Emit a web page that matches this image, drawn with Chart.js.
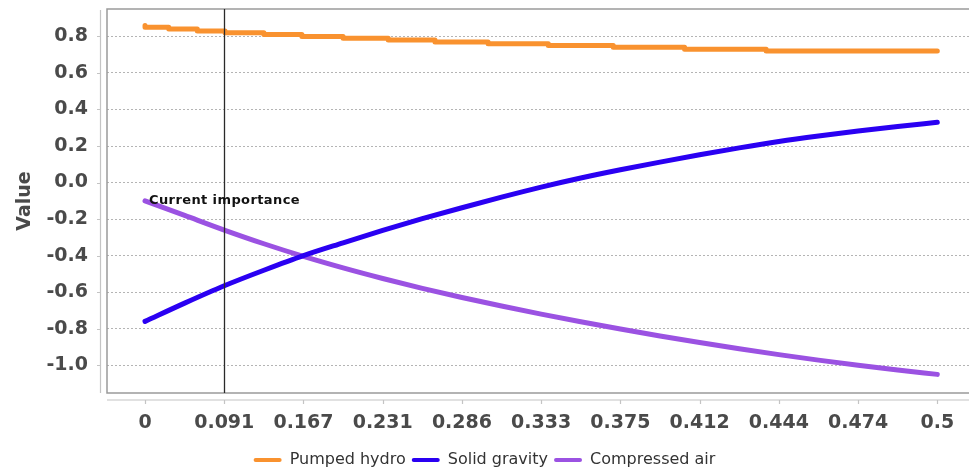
<!DOCTYPE html>
<html>
<head>
<meta charset="utf-8">
<script src="https://cdn.jsdelivr.net/npm/chart.js@4.4.1/dist/chart.umd.min.js"></script>
<style>
  html, body { margin: 0; padding: 0; background: #ffffff; }
  #wrap { width: 969px; height: 471px; position: relative; }
</style>
</head>
<body>
<div id="wrap"><canvas id="c" width="969" height="471"></canvas></div>
<script>
// ---- data ----
const seriesNames = ['Pumped hydro', 'Solid gravity', 'Compressed air'];
const seriesColors = ['#F9922F', '#2A00F2', '#9B52E2'];

// importance weight positions of the sampled points
const weights = [0, 0.05, 0.10, 0.15, 0.20, 0.25, 0.30, 0.35, 0.40, 0.45, 0.50,
                 0.55, 0.60, 0.65, 0.70, 0.75, 0.80, 0.85, 0.90, 0.95, 1.00];
const solidGravity = [-0.76, -0.66, -0.565, -0.48, -0.40, -0.33, -0.262, -0.198, -0.138, -0.08, -0.025,
                      0.025, 0.07, 0.112, 0.152, 0.19, 0.225, 0.255, 0.282, 0.307, 0.33];
const compressedAir = [-0.10, -0.18, -0.26, -0.335, -0.404, -0.467, -0.525, -0.579, -0.629, -0.676, -0.72,
                       -0.762, -0.802, -0.84, -0.876, -0.91, -0.942, -0.972, -1.0, -1.026, -1.05];
// pumped hydro changes in steps of 0.01
const hydroWeights = [0, 0.03, 0.066, 0.101, 0.15, 0.198, 0.25, 0.307, 0.366, 0.433, 0.509, 0.591, 0.681, 0.784, 0.899, 1.0];
const pumpedHydro  = [0.86, 0.85, 0.84, 0.83, 0.82, 0.81, 0.80, 0.79, 0.78, 0.77, 0.76, 0.75, 0.74, 0.73, 0.72, 0.72];

// axis ticks
const xTickWeights = [0, 0.1, 0.2, 0.3, 0.4, 0.5, 0.6, 0.7, 0.8, 0.9, 1.0];
const xTickLabels = ['0', '0.091', '0.167', '0.231', '0.286', '0.333', '0.375', '0.412', '0.444', '0.474', '0.5'];
const yTicks = [-1.0, -0.8, -0.6, -0.4, -0.2, 0.0, 0.2, 0.4, 0.6, 0.8];

// marker
const currentWeight = 0.1;
const currentLabel = 'Current importance';
const currentLabelValue = -0.1;

const yTitle = 'Value';

// ---- chart ----
function pts(xs, ys) { return xs.map((x, i) => ({ x: x, y: ys[i] })); }

const framePlugin = {
  id: 'framePlugin',
  beforeDatasetsDraw(chart) {
    const ctx = chart.ctx, a = chart.chartArea;
    const xs = chart.scales.x, ys = chart.scales.y;
    ctx.save();
    // plot frame
    ctx.strokeStyle = '#9a9a9a';
    ctx.lineWidth = 1.5;
    ctx.beginPath();
    ctx.moveTo(a.right + 2, a.top);
    ctx.lineTo(a.left, a.top);
    ctx.lineTo(a.left, a.bottom);
    ctx.lineTo(a.right + 2, a.bottom);
    ctx.stroke();
    // detached y axis line + ticks
    ctx.strokeStyle = '#c4c4c4';
    ctx.lineWidth = 1.2;
    ctx.beginPath();
    ctx.moveTo(a.left - 6.5, a.top + 1);
    ctx.lineTo(a.left - 6.5, a.bottom);
    yTicks.forEach(v => {
      const y = Math.round(ys.getPixelForValue(v)) + 0.5;
      ctx.moveTo(a.left - 10, y);
      ctx.lineTo(a.left - 6.5, y);
    });
    ctx.stroke();
    // detached x axis line + ticks
    ctx.beginPath();
    ctx.moveTo(a.left, a.bottom + 7);
    ctx.lineTo(a.right, a.bottom + 7);
    xTickWeights.forEach(v => {
      const x = Math.round(xs.getPixelForValue(v)) + 0.5;
      ctx.moveTo(x, a.bottom + 7);
      ctx.lineTo(x, a.bottom + 11);
    });
    ctx.stroke();
    ctx.restore();
  },
  afterDatasetsDraw(chart) {
    const ctx = chart.ctx, a = chart.chartArea;
    const xs = chart.scales.x, ys = chart.scales.y;
    const x = Math.round(xs.getPixelForValue(currentWeight)) + 0.5;
    ctx.save();
    ctx.strokeStyle = '#2a2a2a';
    ctx.lineWidth = 1.3;
    ctx.beginPath();
    ctx.moveTo(x, a.top);
    ctx.lineTo(x, a.bottom);
    ctx.stroke();
    ctx.fillStyle = '#111111';
    ctx.font = 'bold 13px "DejaVu Sans"';
    ctx.letterSpacing = '0.4px';
    ctx.textAlign = 'center';
    ctx.textBaseline = 'middle';
    ctx.fillText(currentLabel, x, ys.getPixelForValue(currentLabelValue));
    ctx.restore();
  }
};

const tickFont = { family: 'DejaVu Sans', size: 19, weight: 'bold' };

new Chart(document.getElementById('c'), {
  type: 'line',
  data: {
    datasets: [
      {
        label: seriesNames[0],
        data: pts(hydroWeights, pumpedHydro),
        borderColor: seriesColors[0], backgroundColor: seriesColors[0],
        borderWidth: 5, pointRadius: 0, stepped: 'after',
        borderCapStyle: 'round', borderJoinStyle: 'round'
      },
      {
        label: seriesNames[1],
        data: pts(weights, solidGravity),
        borderColor: seriesColors[1], backgroundColor: seriesColors[1],
        borderWidth: 5, pointRadius: 0, cubicInterpolationMode: 'monotone',
        borderCapStyle: 'round', borderJoinStyle: 'round'
      },
      {
        label: seriesNames[2],
        data: pts(weights, compressedAir),
        borderColor: seriesColors[2], backgroundColor: seriesColors[2],
        borderWidth: 5, pointRadius: 0, cubicInterpolationMode: 'monotone',
        borderCapStyle: 'round', borderJoinStyle: 'round'
      }
    ]
  },
  options: {
    responsive: false,
    animation: false,
    devicePixelRatio: 1,
    layout: { padding: { top: 9, right: 0, bottom: -7, left: 0 } },
    plugins: {
      tooltip: { enabled: false },
      legend: {
        position: 'bottom',
        labels: {
          boxWidth: 28, boxHeight: 4, padding: 6,
          useBorderRadius: true, borderRadius: 2,
          color: '#333333',
          font: { family: 'DejaVu Sans', size: 16 },
          generateLabels(chart) {
            return Chart.defaults.plugins.legend.labels.generateLabels(chart)
              .map(l => Object.assign(l, { lineWidth: 0 }));
          }
        }
      }
    },
    scales: {
      x: {
        type: 'linear',
        min: -0.048, max: 1.040,
        afterFit(scale) { scale.height = 53; scale.paddingLeft = 0; scale.paddingRight = 0; },
        afterBuildTicks(scale) { scale.ticks = xTickWeights.map(v => ({ value: v })); },
        grid: { display: false, drawTicks: false },
        border: { display: false },
        ticks: {
          autoSkip: false, maxRotation: 0, minRotation: 0, padding: 19,
          color: '#4a4a4a', font: tickFont,
          callback(value) {
            const i = xTickWeights.findIndex(w => Math.abs(w - value) < 1e-6);
            return i >= 0 ? xTickLabels[i] : '';
          }
        }
      },
      y: {
        type: 'linear',
        min: -1.152, max: 0.95,
        afterFit(scale) { scale.width = 107; scale.paddingTop = 0; scale.paddingBottom = 0; },
        afterBuildTicks(scale) { scale.ticks = yTicks.map(v => ({ value: v })); },
        grid: { color: '#b4b4b4', lineWidth: 1, drawTicks: false },
        border: { display: false, dash: [2, 2] },
        ticks: {
          padding: 19, color: '#4a4a4a', font: tickFont,
          callback(value) { return value.toFixed(1); }
        },
        title: {
          display: true, text: yTitle, color: '#4a4a4a',
          font: { family: 'DejaVu Sans', size: 19, weight: 'bold' },
          padding: { top: 14, bottom: 0 }
        }
      }
    }
  },
  plugins: [framePlugin]
});
</script>
</body>
</html>
